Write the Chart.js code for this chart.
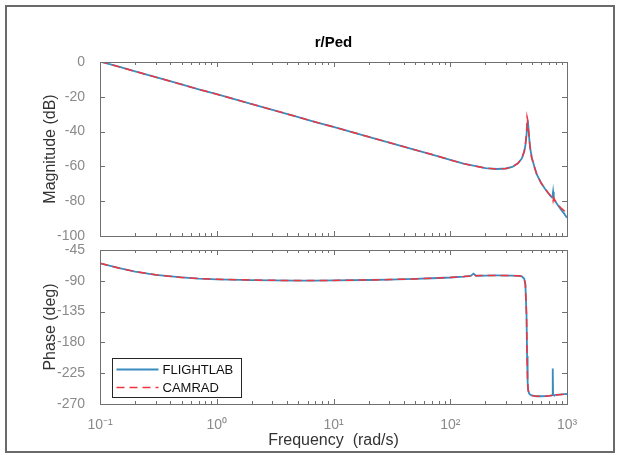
<!DOCTYPE html>
<html>
<head>
<meta charset="utf-8">
<script src="https://cdn.jsdelivr.net/npm/chart.js@4"></script>
<style>
  html, body { margin: 0; padding: 0; background: #fff; }
  #wrap { position: relative; width: 619px; height: 455px; }
  #frame { position: absolute; left: 5px; top: 5px; width: 606px; height: 444px; border: 2px solid #6a6a6a; }
  canvas { position: absolute; left: 0; top: 0; }
</style>
</head>
<body>
<div id="wrap">
  <div id="frame"></div>
  <canvas id="mag" width="619" height="455"></canvas>
  <canvas id="phase" width="619" height="455"></canvas>
</div>
<script>
const titleText = 'r/Ped';
const seriesNames = ['FLIGHTLAB', 'CAMRAD'];
const decades = [0.1, 1, 10, 100, 1000];
const decadeLabels = ['10⁻¹', '10⁰', '10¹', '10²', '10³'];

// frequency, rad/s
const freq = [0.1, 0.15, 0.2, 0.3, 0.5, 0.7, 1, 2, 3, 5, 7, 10,
  20, 30, 50, 70, 100, 130, 150, 158, 166, 200, 250, 300,
  340, 380, 410, 430, 440, 450, 455, 460, 465, 475, 485, 500,
  530, 550, 600, 650, 700, 740, 750, 755, 760, 770, 780, 800,
  850, 900, 950, 1000];

// magnitude, dB
const magFlightlab = [0.3, -3, -5.4, -8.7, -12.9, -15.7, -18.5, -24.2, -27.5, -31.7, -34.5, -37.3,
  -43, -46.3, -50.5, -53.2, -56.3, -58.4, -59.3, -59.6, -59.9, -61, -61.5, -61.2,
  -60.3, -58.2, -55.5, -51.5, -48, -42, -37, -33.5, -36, -44, -50, -55,
  -61, -64.5, -69.5, -73, -75.8, -77.8, -78, -76, -74.5, -78.5, -79.5, -80.5,
  -83, -85.3, -87.3, -89.5];
const magCamrad = [0.3, -3, -5.4, -8.7, -12.9, -15.7, -18.5, -24.2, -27.5, -31.7, -34.5, -37.3,
  -43, -46.3, -50.5, -53.2, -56.3, -58.4, -59.3, -59.6, -59.9, -61, -61.5, -61.2,
  -60.3, -58.2, -55.5, -51.5, -47.5, -41, -31.5, -33, -37, -44.5, -50.5, -55.5,
  -61, -64.5, -69.5, -73, -75.8, -77.8, -78.3, -78.8, -79.8, -78, -79, -80,
  -82.5, -84.3, -85.5, -86.5];

// phase, deg
const phaseFlightlab = [-64.5, -72, -76.5, -81.3, -85, -86.7, -87.8, -88.9, -89.3, -89.6, -89.6, -89.4,
  -88.8, -88.2, -87.2, -86.3, -85.2, -83.8, -82.8, -79.5, -82.6, -82.3, -82.2, -82.3,
  -82.4, -82.7, -83.5, -87, -95, -140, -200, -238, -250, -255, -256.5, -257.5,
  -258.5, -258.7, -258.7, -258.5, -258, -257.5, -257, -218, -256, -257, -257, -256.8,
  -256.4, -256, -255.7, -255.4];
const phaseCamrad = [-64.5, -72, -76.5, -81.3, -85, -86.7, -87.8, -88.9, -89.3, -89.6, -89.6, -89.4,
  -88.8, -88.2, -87.2, -86.3, -85.2, -83.8, -82.8, -80.5, -82.6, -82.3, -82.2, -82.3,
  -82.4, -82.7, -83.5, -87, -95, -140, -200, -238, -250, -255, -256.5, -257.5,
  -258.5, -258.7, -258.7, -258.5, -258, -257.5, -257, -255, -256.5, -257, -257, -256.8,
  -256.4, -256, -255.7, -255.4];

const blue = '#3a8cbf';
const red = '#f0353f';
const tickGray = '#8a8a8a';
const labelColor = '#333333';

Chart.defaults.font.family = "'Liberation Sans', Arial, Helvetica, sans-serif";

// all minor tick positions, 1..9 per decade
const xTicks = [];
decades.slice(0, -1).forEach(d => { for (let k = 1; k < 10; k++) xTicks.push(d * k); });
xTicks.push(decades[decades.length - 1]);

// MATLAB-like box with inward ticks
const boxTicks = {
  id: 'boxTicks',
  afterDraw(chart) {
    const {ctx, chartArea: a, scales} = chart;
    ctx.save();
    ctx.strokeStyle = '#707070';
    ctx.lineWidth = 1;
    ctx.strokeRect(Math.round(a.left) + 0.5, Math.round(a.top) + 0.5, Math.round(a.width), Math.round(a.height));
    ctx.beginPath();
    scales.x.ticks.forEach(t => {
      const px = Math.round(scales.x.getPixelForValue(t.value)) + 0.5;
      const len = decades.indexOf(t.value) >= 0 ? 5 : 3;
      ctx.moveTo(px, a.top); ctx.lineTo(px, a.top + len);
      ctx.moveTo(px, a.bottom); ctx.lineTo(px, a.bottom - len);
    });
    scales.y.ticks.forEach(t => {
      const py = Math.round(scales.y.getPixelForValue(t.value)) + 0.5;
      ctx.moveTo(a.left, py); ctx.lineTo(a.left + 5, py);
      ctx.moveTo(a.right, py); ctx.lineTo(a.right - 5, py);
    });
    ctx.stroke();
    ctx.restore();
  }
};

const plotTitle = {
  id: 'plotTitle',
  afterDraw(chart) {
    const {ctx, chartArea: a} = chart;
    ctx.save();
    ctx.font = "bold 15px 'Liberation Sans', Arial, sans-serif";
    ctx.fillStyle = '#000';
    ctx.textAlign = 'center';
    ctx.textBaseline = 'middle';
    ctx.fillText(titleText, (a.left + a.right) / 2, 43);
    ctx.restore();
  }
};

const boxLegend = {
  id: 'boxLegend',
  afterDraw(chart) {
    const {ctx, chartArea: a} = chart;
    const x = Math.round(a.left) + 12.5, y = Math.round(a.bottom) - 45.5, w = 129, h = 39;
    ctx.save();
    ctx.fillStyle = '#fff';
    ctx.fillRect(x, y, w, h);
    ctx.strokeStyle = '#262626';
    ctx.lineWidth = 1;
    ctx.strokeRect(x, y, w, h);
    chart.data.datasets.forEach((ds, i) => {
      const ly = y + 11 + i * 18;
      ctx.beginPath();
      ctx.strokeStyle = ds.borderColor;
      ctx.lineWidth = ds.borderWidth;
      ctx.setLineDash(ds.borderDash || []);
      ctx.moveTo(x + 4, ly); ctx.lineTo(x + 46, ly);
      ctx.stroke();
      ctx.setLineDash([]);
      ctx.fillStyle = '#111';
      ctx.font = "13px 'Liberation Sans', Arial, sans-serif";
      ctx.textAlign = 'left';
      ctx.textBaseline = 'middle';
      ctx.fillText(ds.label, x + 50, ly + 0.5);
    });
    ctx.restore();
  }
};

function bodeChart(id, a, b, yMin, yMax, yStep, yTitle, pad, isBottom, extra) {
  return new Chart(document.getElementById(id), {
    type: 'line',
    data: {
      datasets: [
        { label: seriesNames[0], data: freq.map((f, i) => ({x: f, y: a[i]})), order: 2,
          borderColor: blue, borderWidth: 1.8, pointRadius: 0, tension: 0 },
        { label: seriesNames[1], data: freq.map((f, i) => ({x: f, y: b[i]})), order: 1,
          borderColor: red, borderWidth: 1.5, borderDash: [8, 5], pointRadius: 0, tension: 0 }
      ]
    },
    options: {
      responsive: false,
      animation: false,
      events: [],
      layout: { padding: pad },
      plugins: { legend: { display: false }, tooltip: { enabled: false } },
      scales: {
        x: {
          type: 'logarithmic', min: 0.1, max: 1000,
          afterBuildTicks: s => { s.ticks = xTicks.map(v => ({value: v})); },
          afterFit: s => { s.height = isBottom ? 51 : 0; },
          grid: { display: false }, border: { display: false },
          ticks: {
            display: isBottom, autoSkip: false, maxRotation: 0, padding: 5,
            color: tickGray, font: { size: 14 },
            callback: v => { const i = decades.indexOf(v); return i >= 0 ? decadeLabels[i] : ''; }
          },
          title: { display: isBottom, text: 'Frequency  (rad/s)', color: labelColor,
                   font: { size: 16 }, padding: { top: 0, bottom: 5 } }
        },
        y: {
          min: yMin, max: yMax,
          afterFit: s => { s.width = 63; },
          grid: { display: false }, border: { display: false },
          ticks: { stepSize: yStep, padding: 7, color: tickGray, font: { size: 14 } },
          title: { display: true, text: yTitle, color: labelColor, font: { size: 16 },
                   padding: { top: 4, bottom: 4 } }
        }
      }
    },
    plugins: [boxTicks, extra]
  });
}

bodeChart('mag', magFlightlab, magCamrad, -100, 0, 20, 'Magnitude (dB)',
  { left: 37, right: 52, top: 62, bottom: 219 }, false, plotTitle);
bodeChart('phase', phaseFlightlab, phaseCamrad, -270, -45, 45, 'Phase (deg)',
  { left: 37, right: 52, top: 250, bottom: 0 }, true, boxLegend);
</script>
</body>
</html>
